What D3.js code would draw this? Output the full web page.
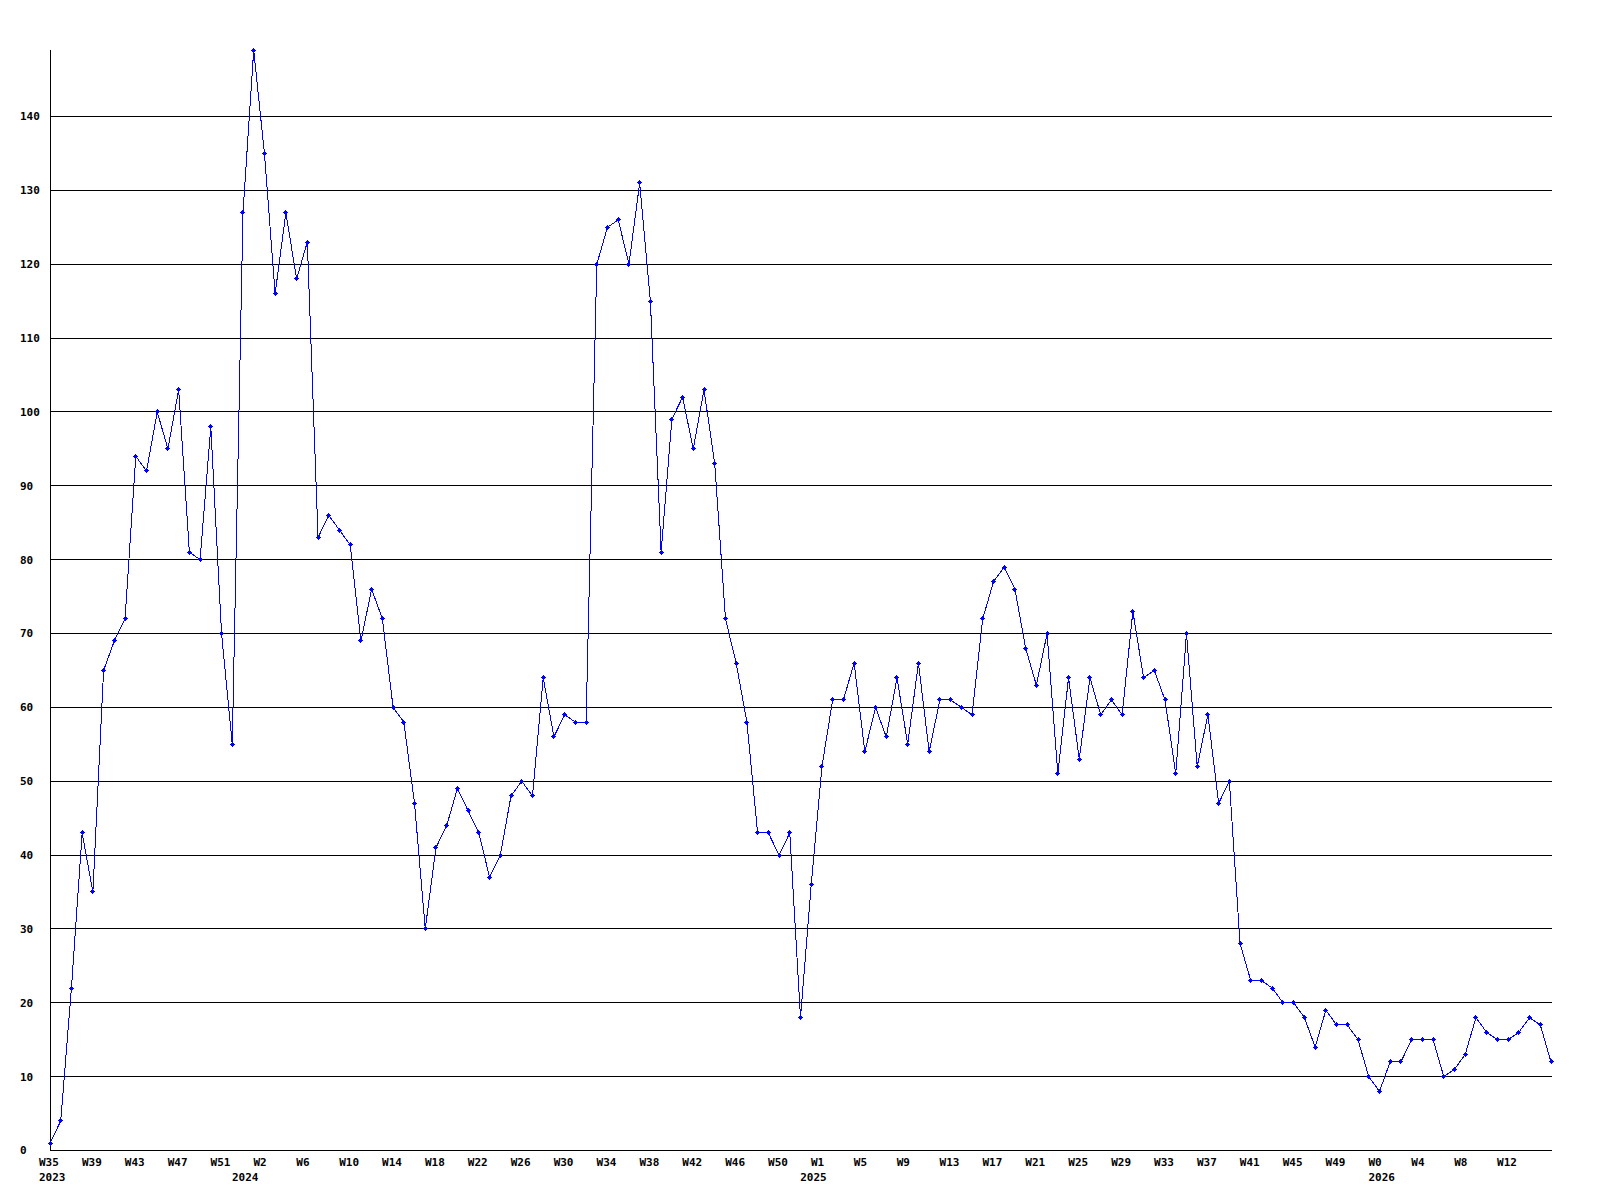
<!DOCTYPE html>
<html>
<head>
<meta charset="utf-8">
<script src="https://cdn.jsdelivr.net/npm/d3@7"></script>
<style>
  html, body { margin: 0; padding: 0; background: #ffffff; }
  svg { display: block; }
</style>
</head>
<body>
<svg id="chart" width="1600" height="1200"></svg>
<script>
// ---------------- DATA ----------------
// Week numbers of each weekly point, per year
const weeks2023 = [35,36,37,38,39,40,41,42,43,44,45,46,47,48,49,50,51,52];
const weeks2024 = [0,1,2,3,4,5,6,7,8,9,10,11,12,13,14,15,16,17,18,19,20,21,22,23,24,25,26,
                   27,28,29,30,31,32,33,34,35,36,37,38,39,40,41,42,43,44,45,46,47,48,49,50,51,52];
const weeks2025 = [0,1,2,3,4,5,6,7,8,9,10,11,12,13,14,15,16,17,18,19,20,21,22,23,24,25,26,
                   27,28,29,30,31,32,33,34,35,36,37,38,39,40,41,42,43,44,45,46,47,48,49,50,51,52];
const weeks2026 = [0,1,2,3,4,5,6,7,8,9,10,11,12,13,14,15,16];
const years = [2023, 2024, 2025, 2026];

// Weekly values
const values = [
  1,4,22,43,35,65,69,72,94,92,100,95,103,81,80,98,70,55,
  127,149,135,116,127,118,123,
  83,86,84,82,69,76,72,60,58,47,30,41,44,49,46,43,37,40,48,50,48,64,56,59,58,58,
  120,125,126,120,131,115,81,99,102,95,103,93,72,66,58,43,43,40,43,18,36,
  52,61,61,66,54,60,56,64,55,66,54,61,61,60,59,72,77,79,76,68,63,70,51,64,53,64,59,61,59,73,
  64,65,61,51,70,52,59,47,50,
  28,23,23,22,20,20,18,14,19,17,17,15,10,8,12,12,15,15,15,10,11,13,18,16,15,15,16,18,17,12
];

// Y tick values
const yTicks = [0,10,20,30,40,50,60,70,80,90,100,110,120,130,140];

(function () {
  // ---------------- BUILD CATEGORIES ----------------
  const weekLists = [weeks2023, weeks2024, weeks2025, weeks2026];
  const points = [];
  const yearStartIdx = [];
  weekLists.forEach((wl, yi) => {
    yearStartIdx.push(points.length);
    wl.forEach(w => points.push({ year: years[yi], week: w }));
  });
  points.forEach((p, i) => p.value = values[i]);

  // ---------------- LAYOUT ----------------
  const FONT = '"DejaVu Sans Mono", "Liberation Mono", monospace';
  const plotLeft = 50, plotRight = 1551, plotTop = 50, plotBottom = 1150.5;
  const labelStep = 4;

  const svg = d3.select('#chart');
  svg.append('rect').attr('width', 1600).attr('height', 1200).attr('fill', '#fff');

  const x = d3.scaleLinear().domain([0, points.length - 1]).range([plotLeft, plotRight]);
  const y = d3.scaleLinear().domain([0, d3.max(values)]).range([plotBottom, plotTop]);

  // Y axis with gridlines
  const yAxis = d3.axisLeft(y)
    .tickValues(yTicks)
    .tickFormat(d3.format('d'))
    .tickSize(-(plotRight - plotLeft))
    .tickSizeOuter(0)
    .offset(0);

  const gy = svg.append('g')
    .attr('transform', `translate(${plotLeft + 0.5},0)`)
    .call(yAxis);
  gy.attr('font-family', FONT).attr('font-size', 11).attr('font-weight', 'bold');
  gy.select('.domain').attr('stroke', '#000').attr('stroke-width', 1).attr('shape-rendering', 'crispEdges');
  gy.selectAll('.tick line').attr('stroke', '#000').attr('stroke-width', 1).attr('shape-rendering', 'crispEdges');
  gy.selectAll('.tick text')
    .attr('fill', '#000')
    .attr('text-anchor', 'start')
    .attr('x', 20 - (plotLeft + 0.5))
    .attr('dy', '0.36em');

  // X axis: week labels every 4th point (last point has no room for a label)
  const labelIdx = d3.range(0, points.length - 1, labelStep);
  const xAxis = d3.axisBottom(x)
    .tickValues(labelIdx)
    .tickFormat(i => 'W' + points[i].week)
    .tickSize(0)
    .tickSizeOuter(0)
    .offset(0);

  const gx = svg.append('g')
    .attr('transform', `translate(0,${plotBottom})`)
    .call(xAxis);
  gx.attr('font-family', FONT).attr('font-size', 11).attr('font-weight', 'bold');
  gx.select('.domain').attr('stroke', '#000').attr('stroke-width', 1).attr('shape-rendering', 'crispEdges');
  gx.selectAll('.tick text')
    .attr('fill', '#000')
    .attr('text-anchor', 'start')
    .attr('x', -11)
    .attr('y', 15)
    .attr('dy', null);

  // X axis: year labels at first point of each year
  const yearAxis = d3.axisBottom(x)
    .tickValues(yearStartIdx)
    .tickFormat(i => String(points[i].year))
    .tickSize(0)
    .tickSizeOuter(0)
    .offset(0);

  const gyr = svg.append('g')
    .attr('transform', `translate(0,${plotBottom})`)
    .call(yearAxis);
  gyr.attr('font-family', FONT).attr('font-size', 11).attr('font-weight', 'bold');
  gyr.select('.domain').remove();
  gyr.selectAll('.tick text')
    .attr('fill', '#000')
    .attr('text-anchor', 'start')
    .attr('x', -11)
    .attr('y', 30.5)
    .attr('dy', null);

  // Line
  const line = d3.line()
    .x((d, i) => x(i))
    .y(d => y(d.value));

  svg.append('path')
    .datum(points)
    .attr('fill', 'none')
    .attr('stroke', '#0000ff')
    .attr('stroke-width', 1)
    .attr('shape-rendering', 'crispEdges')
    .attr('d', line);

  // Markers (small plus)
  const marker = 'M-2.5,-0.5h5v1h-5z M-0.5,-2.5h1v5h-1z M-1.5,-1.5h3v3h-3z';
  svg.append('g')
    .selectAll('path')
    .data(points)
    .join('path')
    .attr('transform', (d, i) => `translate(${x(i)},${y(d.value)})`)
    .attr('d', marker)
    .attr('fill', '#0000ff')
    .attr('shape-rendering', 'crispEdges');
})();
</script>
</body>
</html>
